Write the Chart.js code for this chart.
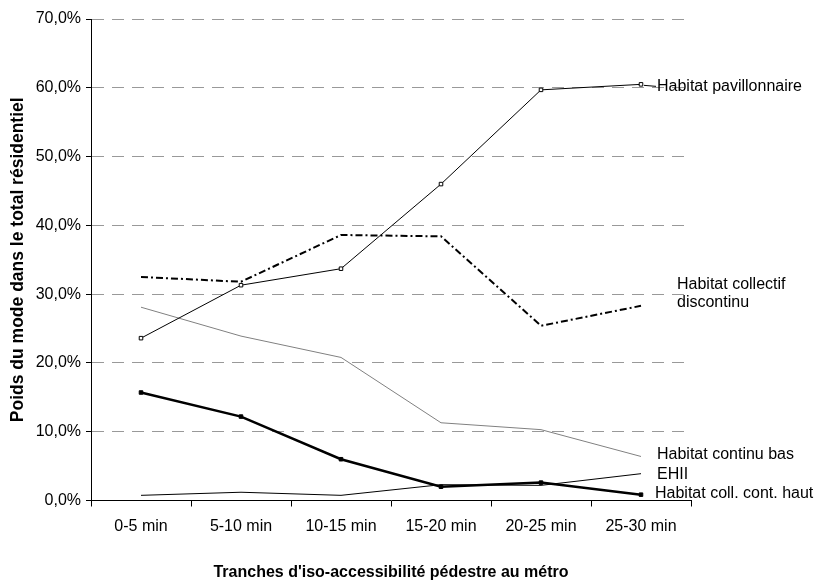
<!DOCTYPE html>
<html>
<head>
<meta charset="utf-8">
<script src="https://cdn.jsdelivr.net/npm/chart.js@4/dist/chart.umd.min.js"></script>
<style>
  html, body { margin: 0; padding: 0; background: #ffffff; }
  #wrap { width: 814px; height: 584px; position: relative; }
</style>
</head>
<body>
<div id="wrap"><canvas id="c" width="814" height="584"></canvas></div>
<script>
const categories = ["0-5 min", "5-10 min", "10-15 min", "15-20 min", "20-25 min", "25-30 min"];
const pavillonnaire = [23.6, 31.3, 33.7, 46.0, 59.7, 60.5];
const collectifDiscontinu = [32.5, 31.8, 38.6, 38.4, 25.4, 28.3];
const continuBas = [28.1, 23.9, 20.8, 11.3, 10.3, 6.4];
const ehii = [0.75, 1.2, 0.75, 2.3, 2.2, 3.9];
const collContHaut = [15.7, 12.2, 6.0, 2.0, 2.6, 0.85];
const yTicks = [0, 10, 20, 30, 40, 50, 60, 70];
const seriesNames = ["Habitat pavillonnaire", "Habitat collectif\ndiscontinu", "Habitat continu bas", "EHII", "Habitat coll. cont. haut"];

const FONT = "Arial, 'Liberation Sans', sans-serif";

const endLabels = {
  id: 'endLabels',
  afterDatasetsDraw(chart) {
    const ctx = chart.ctx;
    const xs = chart.scales.x, ys = chart.scales.y;
    const xLast = xs.getPixelForValue(categories.length - 1);
    const offsets = [{dx: 16, dy: 2}, {dx: 36, dy: -12}, {dx: 16, dy: -1.5}, {dx: 16, dy: 0.5}, {dx: 14, dy: -1.5}];
    ctx.save();
    ctx.font = "16px " + FONT;
    ctx.fillStyle = "#000";
    ctx.textBaseline = "middle";
    ctx.textAlign = "left";
    chart.data.datasets.forEach((ds, i) => {
      const v = ds.data[ds.data.length - 1];
      const y = ys.getPixelForValue(v) + offsets[i].dy;
      const lines = seriesNames[i].split("\n");
      lines.forEach((t, k) => ctx.fillText(t, xLast + offsets[i].dx, y + (k - (lines.length - 1) / 2) * 18));
    });
    // leader line for pavillonnaire
    const yP = ys.getPixelForValue(pavillonnaire[pavillonnaire.length - 1]);
    ctx.strokeStyle = "#000";
    ctx.lineWidth = 1;
    ctx.beginPath();
    ctx.moveTo(xLast + 3, yP + 1);
    ctx.lineTo(xLast + 15, yP + 2);
    ctx.stroke();
    ctx.restore();
  }
};

new Chart(document.getElementById('c'), {
  type: 'line',
  data: {
    labels: categories,
    datasets: [
      {
        label: seriesNames[0], data: pavillonnaire,
        borderColor: '#000', borderWidth: 1,
        pointStyle: 'rect', pointRadius: 2.5, pointBackgroundColor: '#fff', pointBorderColor: '#000', pointBorderWidth: 1,
        tension: 0
      },
      {
        label: seriesNames[1], data: collectifDiscontinu,
        borderColor: '#000', borderWidth: 2, borderDash: [7, 3, 2, 3],
        pointRadius: 0, tension: 0
      },
      {
        label: seriesNames[2], data: continuBas,
        borderColor: '#808080', borderWidth: 1, pointRadius: 0, tension: 0
      },
      {
        label: seriesNames[3], data: ehii,
        borderColor: '#000', borderWidth: 1, pointRadius: 0, tension: 0
      },
      {
        label: seriesNames[4], data: collContHaut,
        borderColor: '#000', borderWidth: 2.5,
        pointStyle: 'rect', pointRadius: 2.5, pointBackgroundColor: '#000', pointBorderColor: '#000', pointBorderWidth: 1,
        tension: 0
      }
    ]
  },
  options: {
    responsive: false,
    animation: false,
    devicePixelRatio: 1,
    layout: { padding: { left: 0, right: 123, top: 19, bottom: 0 } },
    plugins: { legend: { display: false }, tooltip: { enabled: false } },
    scales: {
      x: {
        type: 'category',
        offset: true,
        grid: { display: true, offset: true, drawOnChartArea: false, drawTicks: true, tickLength: 6, tickColor: '#000', color: '#000' },
        border: { display: true, color: '#000', width: 1 },
        ticks: { color: '#000', font: { size: 16, family: FONT }, padding: 10, maxRotation: 0 },
        title: { display: true, text: "Tranches d'iso-accessibilité pédestre au métro", color: '#000', font: { size: 16, weight: 'bold', family: FONT }, padding: { top: 0, bottom: 2 } },
        afterFit(s) { s.height = 83.5; }
      },
      y: {
        min: 0, max: 70,
        afterBuildTicks(s) { s.ticks = yTicks.map(v => ({ value: v })); },
        grid: { display: true, color: '#999', lineWidth: 1, drawTicks: true, tickLength: 5, tickColor: '#000', tickBorderDash: [] },
        border: { display: true, color: '#000', width: 1, dash: [12, 8] },
        ticks: { color: '#000', font: { size: 16, family: FONT }, padding: 5, callback: v => v.toFixed(1).replace('.', ',') + '%' },
        title: { display: true, text: "Poids du mode dans le total résidentiel", color: '#000', font: { size: 17.5, weight: 'bold', family: FONT }, padding: { top: 8, bottom: 0 } },
        afterFit(s) { s.width = 91; }
      }
    }
  },
  plugins: [endLabels]
});
</script>
</body>
</html>
